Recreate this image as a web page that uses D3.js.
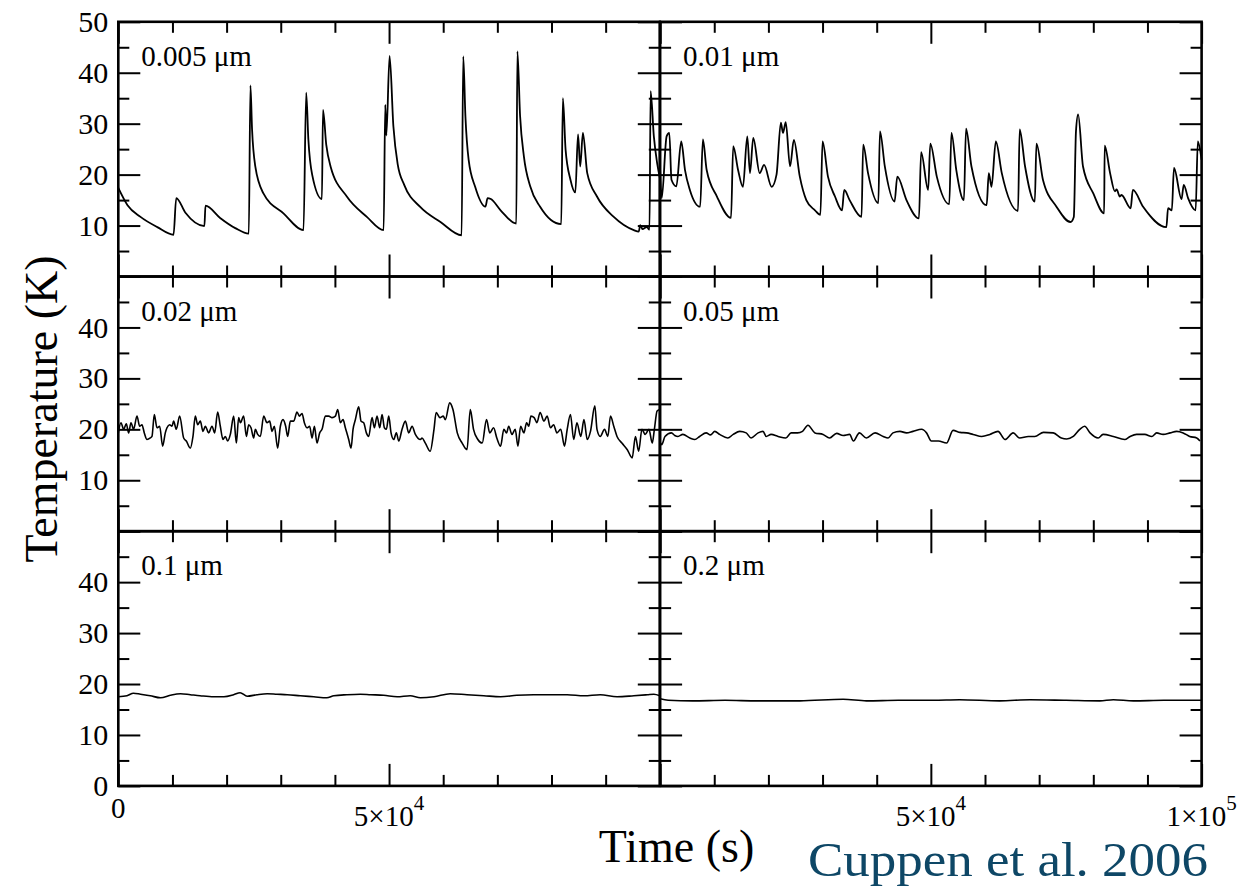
<!DOCTYPE html>
<html>
<head>
<meta charset="utf-8">
<script src="https://cdn.jsdelivr.net/npm/d3@7"></script>
<style>
body { margin: 0; background: #fff; }
svg { display: block; font-family: "Liberation Serif", "Times New Roman", serif; }
</style>
</head>
<body>
<div id="chart"></div>
<script>
// Data: [time (10^3 s), temperature (K)]
const grainSizes = ["0.005 \u03bcm", "0.01 \u03bcm", "0.02 \u03bcm", "0.05 \u03bcm", "0.1 \u03bcm", "0.2 \u03bcm"]

const temp0005 = [[0,17.4],[1.7,14.0],[4.1,11.7],[7.2,9.7],[10.2,8.2],
  [10.7,15.4],[12.4,12.5],[15.9,9.9],
  [16.1,13.9],[18.8,11.5],[21.6,9.5],[24.1,8.4],
  [24.4,37.5],[24.7,28.9],[25.3,21.6],[26.8,16.3],[30.5,12.4],[34.2,9.1],
  [34.7,36.1],[35.1,26.9],[35.8,20.0],[37.6,15.2],
  [37.8,32.7],[38.4,25.9],[39.2,21.6],[42.2,15.7],[45.9,11.7],[49.0,9.1],
  [49.3,33.7],[49.5,27.7],[50.1,43.3],[50.8,29.5],[51.6,22.0],[52.8,18.0],[55.8,13.6],[59.5,10.7],[63.4,8.1],
  [63.7,43.2],[64.1,31.5],[64.7,22.9],[65.9,17.6],[67.8,13.7],[68.2,15.4],[68.8,15.2],[70.6,13.0],[73.5,10.4],
  [73.7,44.2],[74.2,31.5],[74.9,23.6],[76.1,17.6],[77.9,13.7],[81.8,10.3],
  [82.1,35.0],[82.6,24.9],[83.5,19.0],[84.4,16.5],[84.9,27.9],[85.3,21.6],[85.8,28.2],[86.6,20.3],
  [88.4,15.7],[91.5,11.7],[95.2,9.1],[96.1,8.8],[96.4,10.1],[96.8,9.3],[97.6,9.7],[98.1,9.2],
  [98.3,36.4],[98.9,27.5],[99.5,22.3],[100,19.4]]

const temp001 = [[0,21.0],[0.3,15.4],[1.2,27.5],[1.7,28.2],[2.1,19.0],[3.0,17.7],[3.9,26.5],[4.6,20.9],
  [5.5,17.0],[7.4,13.7],[7.9,26.9],[8.6,20.9],[10.5,15.7],[13.1,11.5],[13.5,25.6],[14.4,20.9],
  [15.3,17.6],[16.1,27.5],[16.6,20.3],[17.2,27.2],[18.4,20.3],[19.2,21.9],[20.6,17.6],[21.5,20.0],
  [22.3,30.2],[22.7,28.2],[23.2,30.3],[24.0,21.6],[24.7,26.8],[25.8,19.6],[27.0,15.0],[28.6,13.0],
  [29.6,12.1],[30.0,26.5],[31.0,19.6],[32.3,15.7],[33.6,13.0],[34.0,17.0],[35.0,15.0],[37.2,11.7],
  [37.5,25.9],[38.4,20.3],[40.3,14.4],[40.6,28.5],[41.5,21.6],[43.3,14.7],[43.8,19.6],[45.5,15.0],
  [47.8,11.4],[48.2,24.4],[49.5,17.0],[49.9,26.1],[51.1,19.6],[53.4,14.2],[53.8,28.2],[54.7,20.9],
  [56.1,15.0],[56.5,29.0],[57.5,21.6],[60.3,14.0],[60.7,20.3],[61.2,17.6],[62.0,26.5],[63.1,20.3],
  [66.1,12.9],[66.4,28.9],[67.4,21.6],[69.2,14.7],[69.5,26.1],[70.7,19.0],[73.2,13.7],[75.8,10.7],
  [76.4,11.7],[76.8,28.5],[77.2,31.8],[78.1,21.6],[80.0,16.3],[82.0,12.4],[82.1,25.7],[83.1,20.3],
  [84.0,16.7],[84.3,17.1],[84.9,15.7],[85.2,16.0],[86.9,13.4],[87.3,17.0],[89.2,13.7],[93.5,9.7],
  [93.8,13.4],[94.5,13.0],[94.9,21.3],[96.3,15.2],[96.7,18.0],[97.5,15.4],[98.9,13.0],[99.3,26.5],[100,22.9]]

const temp002 = [[0,19.3],[0.49,21.3],[0.99,20.0],[1.48,21.1],[1.91,19.3],[2.34,21.3],[2.83,20.0],[3.45,22.6],
  [3.94,20.6],[4.37,20.9],[4.8,19.3],[5.3,18.0],[5.91,18.3],[6.22,18.6],[6.65,22.9],[7.14,20.3],[7.64,20.6],
  [8.19,16.7],[8.68,19.3],[8.99,20.3],[9.48,20.9],[9.91,20.6],[10.22,21.6],[10.71,20.0],[11.33,22.6],
  [12.07,18.3],[12.56,17.7],[13.3,16.3],[13.79,18.6],[14.22,22.6],[14.66,20.9],[15.15,21.6],[15.64,19.6],
  [16.07,20.6],[16.69,19.3],[17.3,20.6],[17.8,19.3],[18.35,23.4],[18.84,20.6],[19.33,18.0],[19.77,18.6],
  [20.2,17.7],[20.69,19.0],[21.31,22.6],[21.8,17.3],[22.23,22.3],[22.54,21.3],[23.15,22.6],[23.65,18.6],
  [24.08,20.9],[24.51,20.3],[25.0,18.3],[25.31,20.0],[25.74,19.0],[26.23,18.6],[26.85,22.6],[27.46,21.3],
  [27.96,21.6],[28.39,19.6],[28.82,20.6],[29.43,16.3],[29.93,20.6],[30.42,21.9],[30.91,20.6],[31.28,18.6],
  [31.77,21.6],[32.39,21.6],[33.0,23.4],[33.44,22.6],[33.93,23.1],[34.36,21.3],[34.85,20.3],[35.34,20.6],
  [35.78,18.3],[36.21,20.6],[36.7,17.3],[37.19,19.3],[37.62,20.0],[38.24,22.6],[38.85,22.6],[39.47,22.3],
  [40.09,22.6],[40.52,23.9],[41.01,21.3],[41.5,21.9],[41.93,20.3],[42.55,18.0],[42.98,16.3],[43.35,20.0],
  [43.78,21.9],[44.4,24.4],[44.83,21.6],[45.32,21.3],[45.81,19.3],[46.24,18.6],[46.86,22.3],[47.29,20.3],
  [47.78,22.6],[48.28,20.3],[48.71,22.9],[49.14,20.3],[49.51,20.0],[49.94,22.6],[50.37,19.3],[50.86,18.0],
  [51.35,19.3],[51.79,17.7],[52.4,20.0],[53.02,21.6],[53.63,19.3],[54.25,20.6],[54.86,19.0],[55.79,18.0],
  [56.1,18.3],[56.7,17.3],[57.6,15.7],[58.3,20.0],[58.7,23.3],[59.4,22.3],[60.0,22.6],[60.4,21.9],
  [61.2,25.2],[61.8,23.9],[62.6,19.3],[63.5,17.3],[64.4,16.0],[65.0,23.9],[65.6,20.0],[66.4,18.0],
  [67.2,17.3],[68.0,21.9],[68.6,19.3],[69.3,20.3],[69.9,18.3],[70.6,16.7],[71.2,20.0],[71.7,19.3],
  [72.1,20.6],[72.7,19.0],[73.3,20.0],[73.8,16.7],[74.3,20.6],[74.9,19.3],[75.4,21.3],[75.8,20.6],
  [76.2,22.6],[76.8,22.3],[77.3,21.3],[77.9,23.3],[78.6,21.6],[79.2,22.6],[79.8,20.3],[80.4,20.9],
  [81.0,19.3],[81.7,20.0],[82.4,16.7],[82.9,20.0],[83.5,22.9],[84.1,18.0],[84.7,21.3],[85.4,18.6],
  [86.0,21.9],[86.6,18.0],[87.2,19.6],[88.0,24.6],[88.4,20.0],[89.0,18.6],[89.8,20.0],[90.4,18.6],
  [90.9,22.6],[91.5,20.6],[92.1,18.6],[93.0,17.3],[94.0,16.0],[94.9,14.4],[95.5,18.6],[96.1,15.7],
  [96.7,20.0],[97.3,19.0],[98.0,20.0],[98.6,17.3],[99.0,20.0],[99.5,23.6],[100,23.9]]

const temp005 = [[0,17.5],[0.3,17.0],[0.9,18.6],[2.1,19.3],[2.7,18.8],[3.3,18.6],[4.2,19.0],[5.5,18.3],[6.4,18.0],
  [7.3,18.6],[8.5,19.3],[9.3,18.9],[10.1,19.6],[11.0,19.0],[12.5,18.3],[13.5,19.0],[14.7,19.6],[15.9,19.3],
  [16.8,18.3],[18.1,19.3],[19.0,19.6],[19.6,18.6],[20.5,19.0],[21.8,18.6],[23.2,18.3],[24.2,19.3],
  [25.4,19.3],[26.3,19.6],[27.3,20.8],[28.6,19.3],[30.1,19.0],[31.3,18.3],[32.6,19.2],[33.8,18.8],[35.0,19.0],
  [35.7,17.7],[36.8,19.3],[38.1,18.3],[39.7,19.3],[41.2,18.6],[42.1,18.3],[43.0,19.3],[44.3,19.6],
  [45.5,19.3],[46.7,19.6],[48.3,20.0],[49.2,19.3],[50.1,17.7],[51.4,17.7],[52.9,17.3],[54.1,19.8],
  [55.4,19.4],[56.6,19.3],[57.8,19.0],[59.4,18.6],[60.9,19.0],[62.4,19.6],[63.7,18.0],[65.2,19.3],
  [66.4,18.3],[68.0,18.6],[69.2,18.6],[70.8,19.4],[72.6,19.3],[74.1,18.3],[75.1,18.1],[76.3,18.6],
  [77.5,20.0],[78.4,20.6],[79.4,19.3],[80.9,18.3],[81.8,19.0],[83.7,18.6],[85.8,18.0],[86.8,18.6],
  [88.0,19.0],[89.5,19.0],[90.8,18.6],[91.7,19.3],[92.9,19.0],[94.2,19.3],[95.4,19.6],[96.6,19.3],
  [97.8,18.6],[99.1,18.3],[99.7,17.7]]

const temp01 = [[0,17.5],[1.6,17.7],[2.8,18.2],[4.1,18.0],[5.9,17.7],[7.8,17.3],[9.6,17.8],[11.5,18.1],
  [13.3,17.9],[15.1,17.7],[17.6,17.5],[19.5,17.5],[21.3,17.9],[22.5,18.3],[23.8,17.6],[25.6,17.9],
  [27.5,18.1],[29.3,18.0],[31.2,17.9],[33.6,17.7],[36.1,17.5],[38.5,17.3],[39.8,17.7],[42.2,17.9],
  [44.7,18.0],[46.6,17.9],[49.0,17.8],[51.5,17.5],[53.9,17.7],[55.8,17.3],[58.3,17.5],[61.3,18.1],
  [64.4,17.9],[67.5,17.7],[70.6,17.5],[73.6,17.8],[76.7,17.9],[79.8,17.9],[82.9,17.9],[86.0,17.7],
  [89.0,17.9],[92.1,17.5],[95.2,17.7],[97.7,17.9],[98.9,18.0],[100,17.7]]

const temp02 = [[0,17.1],[1.5,16.8],[6.0,16.7],[12.0,16.8],[18.0,16.7],[25.8,16.7],[33.8,17.0],
  [38.1,16.7],[44.0,16.8],[50.4,16.8],[55.3,16.9],[62.7,16.7],[68.3,16.9],[75.0,16.8],[81.2,16.7],
  [83.7,16.9],[87.4,16.7],[93.0,16.8],[100,16.8]]

const panels = [temp0005, temp001, temp002, temp005, temp01, temp02]

// y tick labels shown on the left column, per row
const yLabelRows = [[10, 20, 30, 40, 50], [10, 20, 30, 40], [0, 10, 20, 30, 40]]
const yMajor = [0, 10, 20, 30, 40, 50]
const yMinor = [5, 15, 25, 35, 45]
const xMajor = [0, 50, 100]
const xMinor = [10, 20, 30, 40, 60, 70, 80, 90]
// x tick labels on the bottom row: [value, mantissa, exponent]
const xLabelsLeft = [[0, "0", ""], [50, "5\u00d710", "4"]]
const xLabelsRight = [[50, "5\u00d710", "4"], [100, "1\u00d710", "5"]]

// Layout
const W = 1255, H = 887
const colX = [118.3, 660.1]
const rowY = [21.8, 276.5, 531.2]
const panelW = 541.5, panelH = 254.7
const majorLen = 22, minorLen = 11
const serif = "Liberation Serif, Times New Roman, serif"

const svg = d3.select("#chart").append("svg")
    .attr("width", W)
    .attr("height", H)

function styleAxis(sel){
    sel.select(".domain").remove()
    sel.selectAll("line").attr("stroke", "#000").attr("stroke-width", 2)
    sel.attr("font-family", serif).attr("font-size", 30)
    sel.selectAll("text").attr("fill", "#000")
}

panels.forEach((data, i) => {
    const row = Math.floor(i / 2), col = i % 2
    const g = svg.append("g")
        .attr("transform", `translate(${colX[col]},${rowY[row]})`)

    const x = d3.scaleLinear().domain([0, 100]).range([0, panelW])
    const y = d3.scaleLinear().domain([0, 50]).range([panelH, 0])

    // series
    g.append("path")
        .datum(data)
        .attr("fill", "none")
        .attr("stroke", "#000")
        .attr("stroke-width", row === 0 ? 1.8 : 1.6)
        .attr("stroke-linejoin", "round")
        .attr("d", d3.line().x(d => x(d[0])).y(d => y(d[1])).curve(d3.curveMonotoneX))

    // y ticks, left and right, pointing inward
    const labels = yLabelRows[row]
    g.append("g")
        .call(d3.axisLeft(y).tickValues(yMajor).tickSize(-majorLen).tickPadding(10)
            .tickFormat(v => (col === 0 && labels.includes(v)) ? v : ""))
        .call(styleAxis)
    g.append("g")
        .call(d3.axisLeft(y).tickValues(yMinor).tickSize(-minorLen).tickFormat(""))
        .call(styleAxis)
    g.append("g").attr("transform", `translate(${panelW},0)`)
        .call(d3.axisRight(y).tickValues(yMajor).tickSize(-majorLen).tickFormat(""))
        .call(styleAxis)
    g.append("g").attr("transform", `translate(${panelW},0)`)
        .call(d3.axisRight(y).tickValues(yMinor).tickSize(-minorLen).tickFormat(""))
        .call(styleAxis)

    // x ticks, top and bottom
    g.append("g").attr("transform", `translate(0,${panelH})`)
        .call(d3.axisBottom(x).tickValues(xMajor).tickSize(-majorLen).tickFormat(""))
        .call(styleAxis)
    g.append("g").attr("transform", `translate(0,${panelH})`)
        .call(d3.axisBottom(x).tickValues(xMinor).tickSize(-minorLen).tickFormat(""))
        .call(styleAxis)
    g.append("g")
        .call(d3.axisTop(x).tickValues(xMajor).tickSize(-majorLen).tickFormat(""))
        .call(styleAxis)
    g.append("g")
        .call(d3.axisTop(x).tickValues(xMinor).tickSize(-minorLen).tickFormat(""))
        .call(styleAxis)

    // frame
    g.append("rect")
        .attr("width", panelW)
        .attr("height", panelH)
        .attr("fill", "none")
        .attr("stroke", "#000")
        .attr("stroke-width", 2.6)

    // grain size label
    g.append("text")
        .attr("x", 23)
        .attr("y", 44)
        .attr("font-family", serif)
        .attr("font-size", 29)
        .text(grainSizes[i])

    // x tick labels on bottom row (top aligned, like the original)
    if (row === 2) {
        const xl = col === 0 ? xLabelsLeft : xLabelsRight
        xl.forEach(([v, base, exp]) => {
            const t = g.append("text")
                .attr("x", x(v))
                .attr("y", panelH + (exp ? 40 : 32))
                .attr("text-anchor", "middle")
                .attr("font-family", serif)
                .attr("font-size", 29)
            t.append("tspan").text(base)
            if (exp) t.append("tspan").attr("dy", -16).attr("font-size", 21).text(exp)
        })
    }
})

// axis titles
svg.append("text")
    .attr("transform", "translate(57,409) rotate(-90)")
    .attr("text-anchor", "middle")
    .attr("font-family", serif)
    .attr("font-size", 46)
    .text("Temperature (K)")

svg.append("text")
    .attr("x", 676.5)
    .attr("y", 862)
    .attr("text-anchor", "middle")
    .attr("font-family", serif)
    .attr("font-size", 46)
    .text("Time (s)")

svg.append("text")
    .attr("x", 808)
    .attr("y", 876)
    .attr("font-family", serif)
    .attr("font-size", 48)
    .attr("textLength", 400)
    .attr("lengthAdjust", "spacingAndGlyphs")
    .attr("fill", "#0e4766")
    .text("Cuppen et al. 2006")
</script>
</body>
</html>
